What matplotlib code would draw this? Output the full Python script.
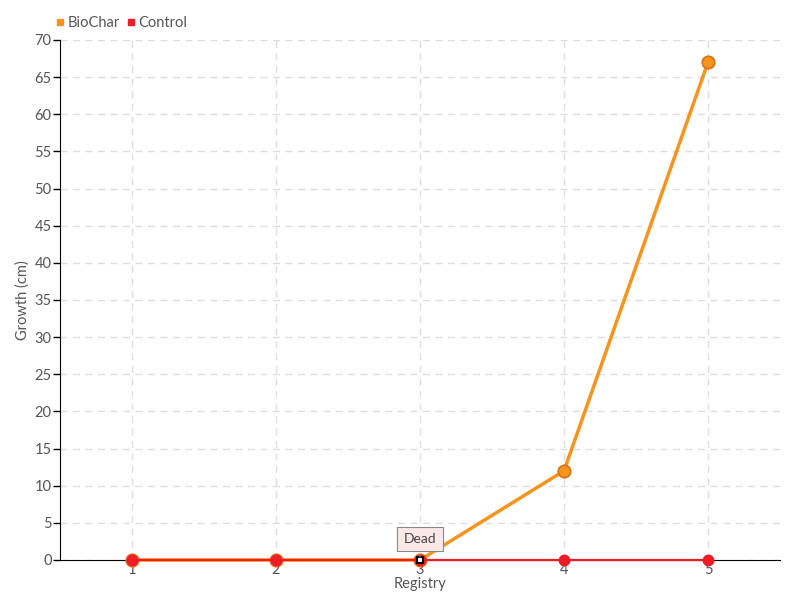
import matplotlib
matplotlib.use("Agg")
import matplotlib.pyplot as plt
from matplotlib.lines import Line2D

registry = [1, 2, 3, 4, 5]
biochar = [0, 0, 0, 12, 67]
control = [0, 0, 0, 0, 0]
yticks = list(range(0, 75, 5))

plt.rcParams['font.family'] = ['Lato', 'DejaVu Sans']
txt = '#555555'

fig = plt.figure(figsize=(8, 6), dpi=100)
ax = fig.add_axes([0.075, 0.0667, 0.9, 0.8667])

ax.plot(registry, biochar, color='#f7941d', lw=2.5, marker='o', ms=9,
        mfc='#f7941d', mec='#d9731a', mew=1.2, zorder=3, clip_on=False)
ax.plot(registry, control, color='#ee1c25', lw=1.6, marker='o', ms=7.5,
        mfc='#ee1c25', mec='#ee1c25', zorder=4, clip_on=False)
ax.plot([registry[2]], [control[2]], marker='s', ms=5, mfc='white', mec='black',
        mew=1.5, zorder=6, ls='none', clip_on=False)

ax.set_xlim(0.5, 5.5)
ax.set_ylim(0, 70)
ax.set_xticks(registry)
ax.set_yticks(yticks)
ax.tick_params(axis='x', length=0, pad=2, labelsize=10.5, labelcolor=txt)
ax.tick_params(axis='y', length=5, width=1, direction='out', labelsize=10.5, labelcolor=txt, pad=1)
ax.grid(True, color='#dddddd', ls=(0, (5, 4)), lw=1)
ax.set_axisbelow(True)
for s in ['top', 'right']:
    ax.spines[s].set_visible(False)
ax.spines['left'].set_color('black')
ax.spines['bottom'].set_color('black')
ax.set_xlabel('Registry', color=txt, fontsize=10.5)
ax.xaxis.set_label_coords(0.5, -0.032)
ax.set_ylabel('Growth (cm)', color=txt, fontsize=10.5)
ax.yaxis.set_label_coords(-0.042, 0.5)

ax.annotate('Dead', xy=(3, 0), xytext=(3, 2.8), ha='center', va='center',
            fontsize=10, color='#444444',
            bbox=dict(boxstyle='square,pad=0.45', fc='#fde8e8', ec='#888888', lw=0.8),
            arrowprops=dict(arrowstyle='-', color='#888888', lw=0.8), zorder=7)

handles = [Line2D([], [], ls='none', marker='s', ms=5, color='#f7941d'),
           Line2D([], [], ls='none', marker='s', ms=5, color='#ee1c25')]
fig.legend(handles, ['BioChar', 'Control'], loc='upper left', bbox_to_anchor=(0.053, 0.995),
           ncol=2, frameon=False, fontsize=10.5, handlelength=0.6, handletextpad=0.2,
           columnspacing=0.5, labelcolor=txt)

fig.savefig('out.png', dpi=100)
